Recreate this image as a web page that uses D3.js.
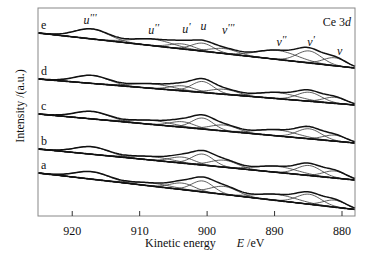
<!DOCTYPE html>
<html>
<head>
<meta charset="utf-8">
<script src="https://cdn.jsdelivr.net/npm/d3@7/dist/d3.min.js"></script>
<style>
  body { margin: 0; background: #fff; }
  svg text { font-family: "Liberation Serif", "Times New Roman", "DejaVu Serif", serif; fill: #111; }
</style>
</head>
<body>
<div id="chart"></div>
<script>
// spectra, top to bottom
var spectra = ["e", "d", "c", "b", "a"];

// fitted Ce 3d components (eV) and their widths (sigma, eV)
var peakNames = ["u", "u", "u", "u", "v", "v", "v", "v"];
var peakPrimes = ["'''", "''", "'", "", "'''", "''", "'", ""];
var peakCenters = [917.0, 908.0, 903.6, 900.6, 897.4, 889.5, 884.8, 881.0];
var peakWidths = [2.5, 3.0, 1.8, 1.6, 2.0, 3.0, 1.8, 1.7];

// background (a.u.) at 925 eV and at 878 eV
var bgStart = [183, 137, 102, 67, 43];
var bgEnd = [148, 111, 73, 36, 6.5];

// component heights (a.u.) for each spectrum
var heightsE = [10, 6.5, 5, 8, 5, 9, 12, 8];
var heightsD = [8, 4.5, 5, 11, 5, 6, 9, 6];
var heightsC = [7.5, 4, 5.5, 11, 6, 6, 10, 6];
var heightsB = [7.5, 3.5, 6, 11, 7, 6, 10, 7];
var heightsA = [7.5, 3, 6.5, 11, 8, 6, 10, 7];
var heights = [heightsE, heightsD, heightsC, heightsB, heightsA];

var xTicks = [920, 910, 900, 890, 880];

// Set up dimensions
var width = 371, height = 253;
var margin = {top: 8, right: 16, bottom: 37, left: 38};
var w = width - margin.left - margin.right;
var h = height - margin.top - margin.bottom;

var svg = d3.select("#chart").append("svg")
  .attr("width", width)
  .attr("height", height);

var g = svg.append("g")
  .attr("transform", "translate(" + margin.left + "," + margin.top + ")");

var x = d3.scaleLinear().domain([925, 878]).range([0, w]);
var y = d3.scaleLinear().domain([0, h]).range([h, 0]);

var grid = d3.range(878, 925.001, 0.25);

function gauss(e, c, s) {
  return Math.exp(-0.5 * Math.pow((e - c) / s, 2));
}

var line = d3.line()
  .x(d => x(d[0]))
  .y(d => y(d[1]));

spectra.forEach(function(name, i) {
  var bg = function(e) { return bgEnd[i] + (bgStart[i] - bgEnd[i]) * (e - 878) / (925 - 878); };
  var hs = heights[i];

  // components
  hs.forEach(function(hk, k) {
    g.append("path")
      .datum(grid.map(e => [e, bg(e) + hk * gauss(e, peakCenters[k], peakWidths[k])]))
      .attr("fill", "none")
      .attr("stroke", "#333")
      .attr("stroke-width", 0.8)
      .attr("d", line);
  });

  // background
  g.append("path")
    .datum(grid.map(e => [e, bg(e)]))
    .attr("fill", "none")
    .attr("stroke", "#111")
    .attr("stroke-width", 1.6)
    .attr("d", line);

  // envelope
  g.append("path")
    .datum(grid.map(e => [e, bg(e) + d3.sum(hs, (hk, k) => hk * gauss(e, peakCenters[k], peakWidths[k]))]))
    .attr("fill", "none")
    .attr("stroke", "#111")
    .attr("stroke-width", 1.5)
    .attr("d", line);

  // spectrum letter
  g.append("text")
    .attr("x", 3)
    .attr("y", y(bgStart[i]) - 4)
    .attr("font-size", 12)
    .text(name);
});

// peak labels above spectrum e
var labelY = [16, 26, 25, 22, 26, 38, 38, 47];
var labelDx = [0, 3, 6, 3, 6, 6, 4, 7];
peakNames.forEach(function(p, k) {
  var t = g.append("text")
    .attr("x", x(peakCenters[k]) - 2 + labelDx[k])
    .attr("y", labelY[k])
    .attr("text-anchor", "middle")
    .attr("font-size", 12)
    .attr("font-style", "italic");
  t.append("tspan").text(p);
  t.append("tspan").attr("font-size", 11).attr("dy", -3).text(peakPrimes[k]);
});

// Ce 3d
var ce = g.append("text")
  .attr("x", w - 4)
  .attr("y", 18)
  .attr("text-anchor", "end")
  .attr("font-size", 12);
ce.append("tspan").text("Ce 3");
ce.append("tspan").attr("font-style", "italic").text("d");

// frame
g.append("rect")
  .attr("width", w)
  .attr("height", h)
  .attr("fill", "none")
  .attr("stroke", "#888")
  .attr("stroke-width", 1);

// x axis, ticks inward
var xAxis = g.append("g")
  .attr("transform", "translate(0," + h + ")")
  .call(d3.axisBottom(x).tickValues(xTicks).tickSizeInner(-5).tickSizeOuter(0).tickPadding(10));
xAxis.select(".domain").remove();
xAxis.selectAll("line").attr("stroke", "#333");
xAxis.selectAll("text")
  .attr("font-size", 12)
  .attr("fill", "#111");

// axis titles
var xt = svg.append("text")
  .attr("x", 145)
  .attr("y", 247)
  .attr("font-size", 12);
xt.append("tspan").text("Kinetic energy");
xt.append("tspan").attr("dx", 21).attr("font-style", "italic").text("E");
xt.append("tspan").text(" /eV");

svg.append("text")
  .attr("transform", "translate(24,106) rotate(-90)")
  .attr("text-anchor", "middle")
  .attr("font-size", 12)
  .text("Intensity /(a.u.)");
</script>
</body>
</html>
